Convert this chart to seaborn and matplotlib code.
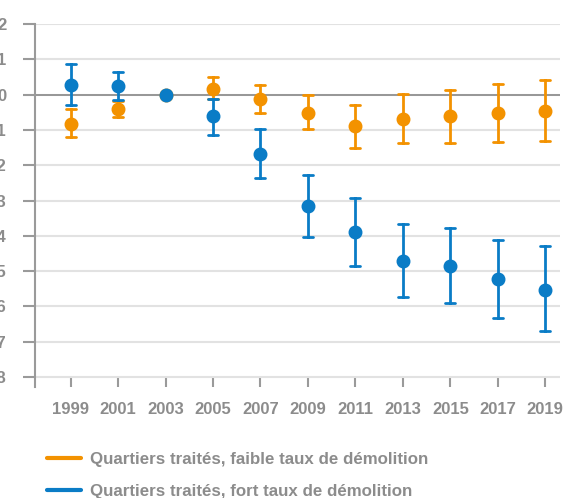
import matplotlib
matplotlib.use("Agg")
import matplotlib.pyplot as plt
from matplotlib.lines import Line2D
import numpy as np
import pandas as pd
import seaborn as sns

# Years (category axis) and the two series: point estimate with lower / upper bounds
annees = ["1999", "2001", "2003", "2005", "2007", "2009", "2011", "2013", "2015", "2017", "2019"]

faible_val = [-0.82, -0.40, 0.0, 0.17, -0.12, -0.51, -0.90, -0.69, -0.61, -0.52, -0.45]
faible_bas = [-1.20, -0.62, 0.0, -0.11, -0.52, -0.97, -1.52, -1.38, -1.38, -1.34, -1.30]
faible_haut = [-0.42, -0.17, 0.0, 0.49, 0.28, -0.01, -0.28, 0.03, 0.14, 0.30, 0.41]

fort_val = [0.28, 0.25, 0.0, -0.61, -1.67, -3.16, -3.90, -4.71, -4.86, -5.23, -5.52]
fort_bas = [-0.29, -0.14, 0.0, -1.15, -2.36, -4.03, -4.86, -5.74, -5.91, -6.34, -6.69]
fort_haut = [0.87, 0.65, 0.0, -0.12, -0.98, -2.29, -2.92, -3.67, -3.77, -4.11, -4.30]

series = [
    "Quartiers traités, faible taux de démolition",
    "Quartiers traités, fort taux de démolition",
]
couleurs = ["#F39200", "#0A7CC6"]
gris = "#8c8c8c"
y_ticks = list(range(-8, 3))

# Long table: each year holds (low, estimate, high); the median gives the estimate
# and the min / max give the interval ends.
rows = []
for nom, val, bas, haut in [
    (series[0], faible_val, faible_bas, faible_haut),
    (series[1], fort_val, fort_bas, fort_haut),
]:
    for a, v, b, h in zip(annees, val, bas, haut):
        for x in (b, v, h):
            rows.append({"annee": a, "valeur": x, "serie": nom})
df = pd.DataFrame(rows)

sns.set_theme(style="white")
plt.rcParams["font.family"] = ["Liberation Sans", "DejaVu Sans"]

fig = plt.figure(figsize=(5.67, 4.98), dpi=100)
ax = fig.add_axes([35 / 567, 1 - 387 / 498, (560 - 35) / 567, (387 - 24) / 498])

sns.pointplot(
    data=df, x="annee", y="valeur", hue="serie",
    order=annees, hue_order=series, palette=couleurs,
    estimator="median", errorbar=lambda v: (v.min(), v.max()),
    linestyle="none", markers="o", markersize=8,
    capsize=0.21, err_kws={"linewidth": 2.0},
    dodge=False, legend=False, ax=ax,
)

ax.set_xlim(-0.75, 10.31)
ax.set_ylim(-8.28, 2)
ax.set_yticks(y_ticks)
ax.set_yticklabels([str(t) for t in y_ticks])
ax.set_xlabel("")
ax.set_ylabel("")

ax.set_axisbelow(True)
ax.yaxis.grid(True, color="#e2e2e2", linewidth=1.5)
ax.xaxis.grid(False)
ax.axhline(0, color="#8a8a8a", linewidth=1.2, zorder=1.5)

for s in ("top", "right", "bottom"):
    ax.spines[s].set_visible(False)
ax.spines["left"].set_color("#9a9a9a")
ax.spines["left"].set_linewidth(1.5)

ax.tick_params(axis="y", direction="out", length=8.5, width=1.5, color="#9a9a9a",
               pad=12, labelsize=12, labelcolor=gris, left=True)
ax.tick_params(axis="x", direction="in", length=8, width=1.5, color="#9a9a9a",
               pad=11, labelsize=12, labelcolor=gris, bottom=True)
for lab in ax.get_xticklabels() + ax.get_yticklabels():
    lab.set_fontweight("bold")

handles = [Line2D([], [], color=c, linewidth=3) for c in couleurs]
fig.legend(
    handles, series, loc="upper left", bbox_to_anchor=(47 / 567, 1 - 452 / 498),
    frameon=False, borderpad=0, borderaxespad=0, handlelength=2.0,
    handletextpad=0.55, labelspacing=1.0,
    prop={"weight": "bold", "size": 12.2}, labelcolor=gris,
)

fig.savefig("out.png", dpi=100)
